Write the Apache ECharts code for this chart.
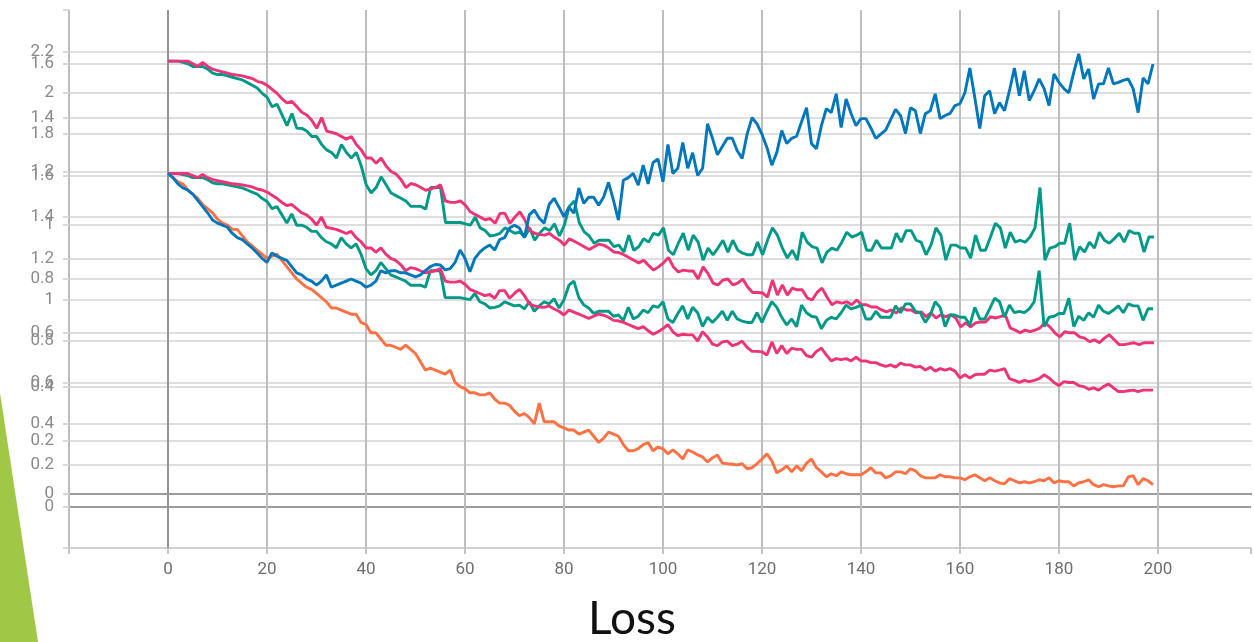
<!DOCTYPE html>
<html>
<head>
<meta charset="utf-8">
<script src="https://cdn.jsdelivr.net/npm/echarts@6/dist/echarts.min.js"></script>
<style>
  html, body { margin: 0; padding: 0; background: #fff; }
  #loss { width: 1254px; height: 642px; }
</style>
</head>
<body>
<div id="loss"></div>
<script>
// epochs 0..199
var epochs = Array.from({ length: 200 }, function (_, i) { return i; });

var blueLoss = [
  1.61, 1.59, 1.56, 1.54, 1.53, 1.51, 1.48, 1.45, 1.42, 1.385,
  1.37, 1.36, 1.35, 1.32, 1.30, 1.29, 1.27, 1.25, 1.226, 1.20,
  1.18, 1.226, 1.21, 1.20, 1.19, 1.16, 1.13, 1.12, 1.10, 1.09,
  1.07, 1.09, 1.12, 1.06, 1.07, 1.08, 1.09, 1.10, 1.09, 1.08,
  1.06, 1.07, 1.09, 1.14, 1.13, 1.14, 1.14, 1.13, 1.13, 1.12,
  1.11, 1.12, 1.14, 1.16, 1.17, 1.168, 1.144, 1.15, 1.18, 1.24,
  1.20, 1.135, 1.20, 1.23, 1.25, 1.264, 1.24, 1.29, 1.30, 1.346,
  1.36, 1.346, 1.30, 1.41, 1.433, 1.394, 1.37, 1.46, 1.49, 1.447,
  1.40, 1.447, 1.418, 1.54, 1.466, 1.495, 1.495, 1.457, 1.495, 1.567,
  1.48, 1.385, 1.577, 1.59, 1.61, 1.553, 1.65, 1.56, 1.663, 1.68,
  1.57, 1.75, 1.61, 1.635, 1.76, 1.635, 1.71, 1.60, 1.635, 1.85,
  1.78, 1.70, 1.74, 1.78, 1.78, 1.72, 1.683, 1.80, 1.88, 1.85,
  1.80, 1.736, 1.65, 1.712, 1.817, 1.755, 1.78, 1.79, 1.86, 1.928,
  1.755, 1.73, 1.84, 1.923, 1.904, 1.995, 1.832, 1.97, 1.90, 1.841,
  1.875, 1.875, 1.83, 1.779, 1.80, 1.82, 1.87, 1.92, 1.89, 1.803,
  1.928, 1.913, 1.803, 1.899, 1.913, 1.995, 1.875, 1.89, 1.90, 1.938,
  1.947, 2.0, 2.12, 1.976, 1.827, 1.986, 2.01, 1.899, 1.952, 1.913,
  2.01, 2.12, 1.986, 2.106, 1.962, 2.01, 2.067, 2.02, 1.938, 2.091,
  2.05, 2.02, 2.0, 2.10, 2.188, 2.067, 2.115, 1.97, 2.043, 2.043,
  2.12, 2.043, 2.05, 2.06, 2.067, 2.019, 1.904, 2.072, 2.043, 2.139
];

var orangeLoss = [
  1.61, 1.59, 1.57, 1.56, 1.53, 1.51, 1.49, 1.46, 1.44, 1.42,
  1.39, 1.37, 1.36, 1.34, 1.34, 1.31, 1.28, 1.26, 1.24, 1.22,
  1.20, 1.21, 1.22, 1.19, 1.16, 1.13, 1.10, 1.08, 1.06, 1.05,
  1.03, 1.01, 0.99, 0.96, 0.96, 0.95, 0.94, 0.93, 0.93, 0.89,
  0.88, 0.84, 0.84, 0.81, 0.78, 0.78, 0.77, 0.76, 0.78, 0.76,
  0.74, 0.70, 0.66, 0.67, 0.66, 0.65, 0.64, 0.66, 0.60, 0.58,
  0.57, 0.55, 0.55, 0.54, 0.54, 0.55, 0.52, 0.50, 0.50, 0.49,
  0.46, 0.44, 0.45, 0.43, 0.40, 0.50, 0.41, 0.41, 0.41, 0.39,
  0.38, 0.37, 0.37, 0.35, 0.36, 0.37, 0.34, 0.31, 0.33, 0.36,
  0.35, 0.34, 0.30, 0.27, 0.27, 0.28, 0.30, 0.31, 0.27, 0.288,
  0.279, 0.255, 0.274, 0.255, 0.23, 0.274, 0.264, 0.25, 0.24, 0.216,
  0.235, 0.25, 0.21, 0.207, 0.205, 0.202, 0.207, 0.183, 0.188, 0.207,
  0.23, 0.255, 0.221, 0.163, 0.178, 0.197, 0.168, 0.197, 0.173, 0.21,
  0.23, 0.188, 0.168, 0.144, 0.159, 0.149, 0.168, 0.159, 0.154, 0.154,
  0.154, 0.168, 0.188, 0.163, 0.163, 0.139, 0.149, 0.168, 0.168, 0.159,
  0.183, 0.173, 0.149, 0.139, 0.139, 0.139, 0.154, 0.144, 0.144, 0.139,
  0.139, 0.13, 0.144, 0.154, 0.139, 0.125, 0.139, 0.125, 0.115, 0.11,
  0.135, 0.125, 0.115, 0.12, 0.115, 0.12, 0.13, 0.125, 0.139, 0.115,
  0.125, 0.12, 0.12, 0.10, 0.115, 0.12, 0.13, 0.106, 0.096, 0.106,
  0.10, 0.096, 0.10, 0.10, 0.144, 0.149, 0.106, 0.135, 0.125, 0.106
];

var greenLoss = [
  1.61, 1.61, 1.61, 1.605, 1.60, 1.59, 1.59, 1.59, 1.58, 1.565,
  1.56, 1.56, 1.555, 1.55, 1.545, 1.54, 1.53, 1.52, 1.51, 1.49,
  1.475, 1.44, 1.45, 1.41, 1.37, 1.415, 1.36, 1.36, 1.35, 1.33,
  1.33, 1.30, 1.28, 1.27, 1.25, 1.30, 1.27, 1.25, 1.27, 1.22,
  1.15, 1.12, 1.14, 1.18, 1.15, 1.12, 1.11, 1.10, 1.09, 1.07,
  1.07, 1.07, 1.06, 1.14, 1.14, 1.14, 1.01, 1.01, 1.01, 1.01,
  1.005, 1.00, 1.03, 0.99, 0.98, 0.96, 0.963, 0.97, 0.99, 0.98,
  0.97, 0.974, 0.956, 0.99, 0.944, 0.97, 0.99, 0.98, 1.005, 0.96,
  1.00, 1.07, 1.09, 1.01, 0.975, 0.96, 0.933, 0.944, 0.944, 0.944,
  0.92, 0.926, 0.90, 0.963, 0.907, 0.92, 0.95, 0.937, 0.97, 0.963,
  0.99, 0.907, 0.89, 0.933, 0.97, 0.907, 0.963, 0.937, 0.87, 0.915,
  0.89, 0.915, 0.944, 0.90, 0.944, 0.907, 0.896, 0.89, 0.89, 0.937,
  0.89, 0.944, 0.99, 0.963, 0.915, 0.878, 0.907, 0.87, 0.974, 0.937,
  0.92, 0.915, 0.86, 0.90, 0.915, 0.907, 0.937, 0.974, 0.956, 0.963,
  0.974, 0.907, 0.907, 0.944, 0.915, 0.915, 0.915, 0.97, 0.937, 0.98,
  0.98, 0.944, 0.937, 0.89, 0.926, 0.99, 0.963, 0.87, 0.926, 0.926,
  0.915, 0.915, 0.878, 0.963, 0.907, 0.907, 0.956, 1.007, 0.99, 0.915,
  0.974, 0.937, 0.944, 0.937, 0.956, 0.99, 1.14, 0.87, 0.915, 0.92,
  0.933, 0.933, 1.007, 0.87, 0.92, 0.90, 0.937, 0.915, 0.974, 0.944,
  0.933, 0.95, 0.97, 0.937, 0.98, 0.97, 0.97, 0.90, 0.956, 0.956
];

var pinkLoss = [
  1.61, 1.61, 1.61, 1.61, 1.61, 1.60, 1.59, 1.605, 1.59, 1.58,
  1.575, 1.57, 1.565, 1.56, 1.558, 1.555, 1.55, 1.545, 1.535, 1.53,
  1.52, 1.505, 1.49, 1.47, 1.455, 1.46, 1.44, 1.42, 1.41, 1.39,
  1.36, 1.40, 1.35, 1.345, 1.34, 1.33, 1.32, 1.33, 1.30, 1.28,
  1.25, 1.25, 1.23, 1.25, 1.22, 1.20, 1.19, 1.17, 1.14, 1.155,
  1.15, 1.14, 1.13, 1.135, 1.14, 1.15, 1.09, 1.085, 1.085, 1.09,
  1.075, 1.05, 1.04, 1.03, 1.02, 1.025, 1.007, 1.044, 1.044, 1.007,
  1.03, 1.05, 1.02, 0.98, 0.97, 0.965, 0.963, 0.97, 0.955, 0.944,
  0.926, 0.95, 0.94, 0.93, 0.92, 0.91, 0.92, 0.93, 0.925, 0.915,
  0.90, 0.898, 0.89, 0.88, 0.87, 0.86, 0.87, 0.85, 0.833, 0.845,
  0.86, 0.88, 0.845, 0.826, 0.833, 0.83, 0.83, 0.80, 0.845, 0.82,
  0.785, 0.778, 0.796, 0.80, 0.778, 0.785, 0.80, 0.77, 0.75, 0.75,
  0.748, 0.733, 0.796, 0.74, 0.778, 0.74, 0.766, 0.76, 0.76, 0.73,
  0.722, 0.75, 0.766, 0.733, 0.704, 0.715, 0.71, 0.715, 0.704, 0.722,
  0.704, 0.704, 0.696, 0.696, 0.685, 0.678, 0.685, 0.674, 0.693, 0.685,
  0.685, 0.674, 0.678, 0.66, 0.674, 0.655, 0.667, 0.66, 0.667, 0.655,
  0.622, 0.637, 0.622, 0.637, 0.64, 0.64, 0.66, 0.655, 0.66, 0.667,
  0.618, 0.61, 0.60, 0.61, 0.604, 0.61, 0.618, 0.637, 0.622, 0.60,
  0.585, 0.604, 0.60, 0.60, 0.585, 0.58, 0.567, 0.574, 0.563, 0.58,
  0.593, 0.574, 0.556, 0.556, 0.56, 0.563, 0.556, 0.563, 0.563, 0.563
];

var chart = echarts.init(document.getElementById('loss'));

function pairs(vals) {
  return epochs.map(function (e, i) { return [e, vals[i]]; });
}

// one colour per tick: bottom line, zero line (darker), the rest, top hidden
function lineColors(count) {
  var c = ['#d0d0d0', '#9c9c9c'];
  for (var i = 2; i < count - 1; i++) c.push('#dedede');
  c.push('rgba(0,0,0,0)');
  return c;
}

// x ticks -20..200 plus the cut-off right edge (hidden)
var xColors = ['#bdbdbd', '#959595'];
for (var k = 2; k < 12; k++) xColors.push('#bdbdbd');
xColors.push('rgba(0,0,0,0)');

var gridBox = { left: 69, top: 10, width: 1183, height: 538 };

function lineSeries(name, vals, color, xi, yi) {
  return {
    name: name,
    type: 'line',
    xAxisIndex: xi,
    yAxisIndex: yi,
    data: pairs(vals),
    showSymbol: false,
    symbol: 'none',
    lineStyle: { color: color, width: 2.9 },
    itemStyle: { color: color }
  };
}

var option = {
  animation: false,
  backgroundColor: '#fff',
  grid: [gridBox, gridBox],
  xAxis: [
    {
      type: 'value', gridIndex: 0, min: -20, max: 218.8, interval: 20,
      axisLine: { show: false, onZero: false },
      axisTick: { show: true, length: 6, lineStyle: { color: '#c4c4c4', width: 2 } },
      axisLabel: {
        color: '#6e6e6e', fontSize: 17, fontFamily: 'Roboto', margin: 13,
        formatter: function (v) { return (v < 0 || v > 200) ? '' : String(v); }
      },
      splitLine: { show: true, lineStyle: { color: xColors, width: 2 } }
    },
    {
      type: 'value', gridIndex: 1, min: -20, max: 218.8, interval: 20, show: false,
      axisLine: { onZero: false }
    }
  ],
  yAxis: [
    {
      type: 'value', gridIndex: 0, min: -0.2, max: 2.4, interval: 0.2,
      axisLine: { show: false, onZero: false },
      axisTick: { show: true, length: 6, lineStyle: { color: '#d8d8d8', width: 2 } },
      axisLabel: {
        color: '#8a8a8a', fontSize: 17, fontFamily: 'Roboto', margin: 15,
        formatter: function (v) { return (v < -0.01 || v > 2.25) ? '' : String(Math.round(v * 10) / 10); }
      },
      splitLine: { show: true, lineStyle: { color: lineColors(14), width: 2 } }
    },
    {
      type: 'value', gridIndex: 1, min: -0.2, max: 1.8, interval: 0.2,
      axisLine: { show: false, onZero: false },
      axisTick: { show: true, length: 6, lineStyle: { color: '#d8d8d8', width: 2 } },
      axisLabel: {
        color: '#8a8a8a', fontSize: 17, fontFamily: 'Roboto', margin: 15,
        formatter: function (v) { return (v < -0.01 || v > 1.65) ? '' : String(Math.round(v * 10) / 10); }
      },
      splitLine: { show: true, lineStyle: { color: lineColors(11), width: 2 } }
    }
  ],
  graphic: [
    {
      type: 'polygon',
      shape: { points: [[0, 393], [38, 642], [0, 642]] },
      style: { fill: '#a0c846' }
    },
    {
      type: 'text',
      x: 632, y: 619,
      style: {
        text: 'Loss', fill: '#111', fontSize: 46, fontFamily: 'Lato',
        textAlign: 'center', textVerticalAlign: 'middle'
      }
    }
  ],
  series: [
    lineSeries('green', greenLoss, '#009988', 1, 1),
    lineSeries('pink', pinkLoss, '#ee3377', 1, 1),
    lineSeries('green', greenLoss, '#009988', 0, 0),
    lineSeries('pink', pinkLoss, '#ee3377', 0, 0),
    lineSeries('orange', orangeLoss, '#ff7043', 0, 0),
    lineSeries('blue', blueLoss, '#0077bb', 0, 0)
  ]
};

option && chart.setOption(option);
</script>
</body>
</html>
